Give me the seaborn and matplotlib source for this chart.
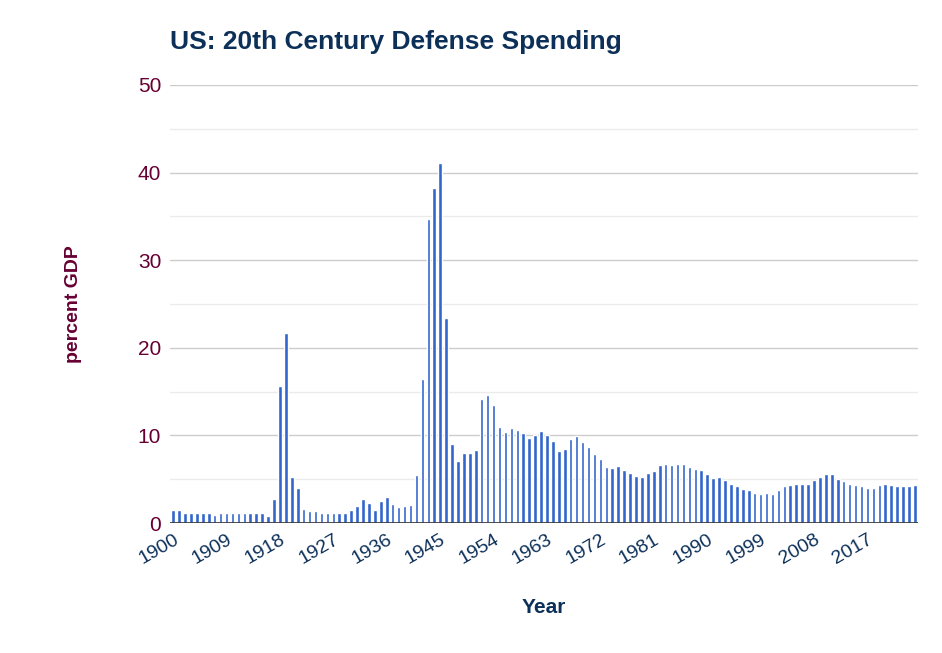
import matplotlib
matplotlib.use("Agg")
import matplotlib.pyplot as plt
import seaborn as sns
import pandas as pd

years = list(range(1900, 2026))
values = [1.5,1.5,1.2,1.1,1.2,1.1,1.1,0.9,1.1,1.1,1.1,1.1,1.1,1.1,1.1,1.1,0.8,2.7,15.6,21.7,
          5.2,4.0,1.6,1.4,1.4,1.2,1.2,1.2,1.2,1.2,1.5,1.9,2.8,2.3,1.5,2.5,3.0,2.2,1.8,1.9,
          2.1,5.5,16.4,34.7,38.2,41.1,23.4,9.0,7.1,8.0,8.0,8.3,14.1,14.6,13.5,11.0,10.4,10.8,10.6,10.3,
          9.7,10.0,10.5,10.0,9.4,8.2,8.4,9.6,9.9,9.2,8.7,7.9,7.3,6.4,6.3,6.5,6.0,5.7,5.4,5.3,
          5.7,5.9,6.6,6.7,6.6,6.7,6.7,6.4,6.2,6.0,5.6,5.1,5.3,4.9,4.5,4.2,3.9,3.8,3.4,3.3,
          3.4,3.3,3.8,4.2,4.3,4.4,4.4,4.4,4.9,5.3,5.6,5.6,5.0,4.8,4.4,4.3,4.2,4.0,4.0,4.3,
          4.4,4.3,4.2,4.2,4.2,4.3]
df = pd.DataFrame({"Year": [str(y) for y in years], "pct": values})

sns.set_theme(style="white")
plt.rcParams['font.family'] = ['Liberation Sans', 'DejaVu Sans']
fig = plt.figure(figsize=(9.42, 6.53), dpi=100)
ax = fig.add_axes([0.18, 0.199, 0.795, 0.671])
for v in range(0, 51, 5):
    ax.axhline(v, color="#cccccc" if v % 10 == 0 else "#ebebeb", lw=1, zorder=0)
sns.barplot(data=df, x="Year", y="pct", color="#3366cc", width=0.6, ax=ax, zorder=2, saturation=1)
ax.axhline(0, color="#333333", lw=1.2, zorder=3)
ax.set_ylim(0, 50)
ax.set_xlim(-0.6, len(years) - 0.4)
ax.set_yticks(range(0, 51, 10))
ax.set_yticklabels([str(v) for v in range(0, 51, 10)], color="#660033", fontsize=15)
ticks = [i for i in range(len(years)) if i % 9 == 0]
ax.set_xticks(ticks)
ax.set_xticklabels([years[i] for i in ticks], rotation=30, ha="right", color="#0d3059", fontsize=14,
                   rotation_mode="anchor")
ax.tick_params(axis="both", length=0, pad=6)
for s in ax.spines.values():
    s.set_visible(False)
ax.set_xlabel("Year", color="#0d3059", fontsize=15, fontweight="bold", labelpad=22)
ax.set_ylabel("percent GDP", color="#660033", fontsize=14, fontweight="bold", labelpad=40)
fig.text(0.18, 0.935, "US: 20th Century Defense Spending", color="#0d3059", fontsize=19,
         fontweight="bold", ha="left", va="center")
fig.savefig("out.png")
